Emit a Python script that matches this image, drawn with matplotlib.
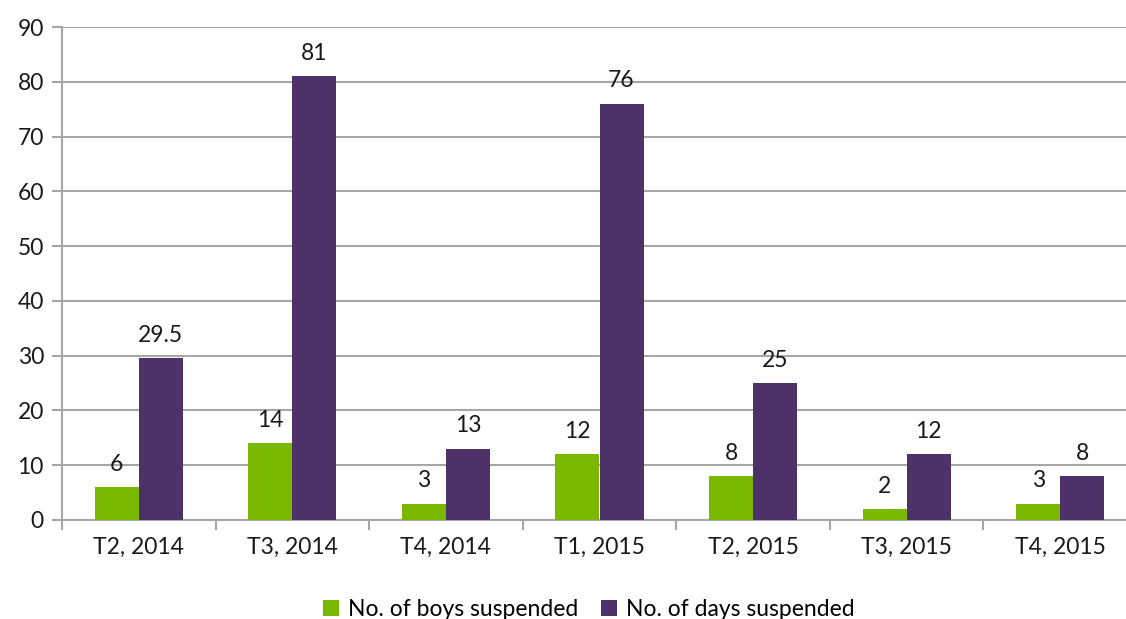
import numpy as np
import matplotlib.pyplot as plt

# -----------------------------
# DATA
# -----------------------------
terms = ["T2, 2014", "T3, 2014", "T4, 2014", "T1, 2015", "T2, 2015", "T3, 2015", "T4, 2015"]
boys_suspended = [6, 14, 3, 12, 8, 2, 3]
days_suspended = [29.5, 81, 13, 76, 25, 12, 8]
boys_labels = ["6", "14", "3", "12", "8", "2", "3"]
days_labels = ["29.5", "81", "13", "76", "25", "12", "8"]

green = "#7AB800"
purple = "#4D3169"
grid_col = "#A6A6A6"
fs = 16.5

plt.rcParams['font.family'] = ['Lato', 'DejaVu Sans']

fig = plt.figure(figsize=(11.26, 6.19), dpi=100)
ax = fig.add_axes([62 / 1126, 99 / 619, 1075 / 1126, 493 / 619])

x = np.arange(len(terms))
w = 0.287
b1 = ax.bar(x - w / 2, boys_suspended, w, color=green, label="No. of boys suspended", zorder=3)
b2 = ax.bar(x + w / 2, days_suspended, w, color=purple, label="No. of days suspended", zorder=3)

# value labels above bars
for bars, labels in [(b1, boys_labels), (b2, days_labels)]:
    for rect, lab in zip(bars, labels):
        ax.annotate(lab, (rect.get_x() + rect.get_width() / 2, rect.get_height()),
                    xytext=(0, 9), textcoords="offset points", ha="center", va="bottom",
                    fontsize=fs, color="#1a1a1a")

ax.set_xlim(-0.5, len(terms) - 0.5)
ax.set_ylim(0, 90)
ax.set_yticks(np.arange(0, 91, 10))
ax.yaxis.grid(True, color=grid_col, linewidth=1.5, zorder=0)
ax.set_axisbelow(True)

ax.set_xticks(x)
ax.set_xticklabels(terms)
ax.set_xticks(np.arange(-0.5, len(terms), 1), minor=True)
ax.tick_params(axis="x", which="major", length=0, pad=12, labelsize=fs, labelcolor="#1a1a1a")
ax.tick_params(axis="x", which="minor", length=7, width=1.5, color=grid_col)
ax.tick_params(axis="y", length=7, width=1.5, color=grid_col, labelsize=fs, pad=6, labelcolor="#1a1a1a")

for s in ["top", "right"]:
    ax.spines[s].set_visible(False)
for s in ["left", "bottom"]:
    ax.spines[s].set_color(grid_col)
    ax.spines[s].set_linewidth(1.5)

fig.legend(handles=[b1, b2], loc="lower center", bbox_to_anchor=(0.523, -0.035), ncol=2,
           frameon=False, fontsize=fs, handlelength=0.7, handleheight=0.7,
           handletextpad=0.4, columnspacing=1.0)

fig.savefig("out.png", dpi=100)
